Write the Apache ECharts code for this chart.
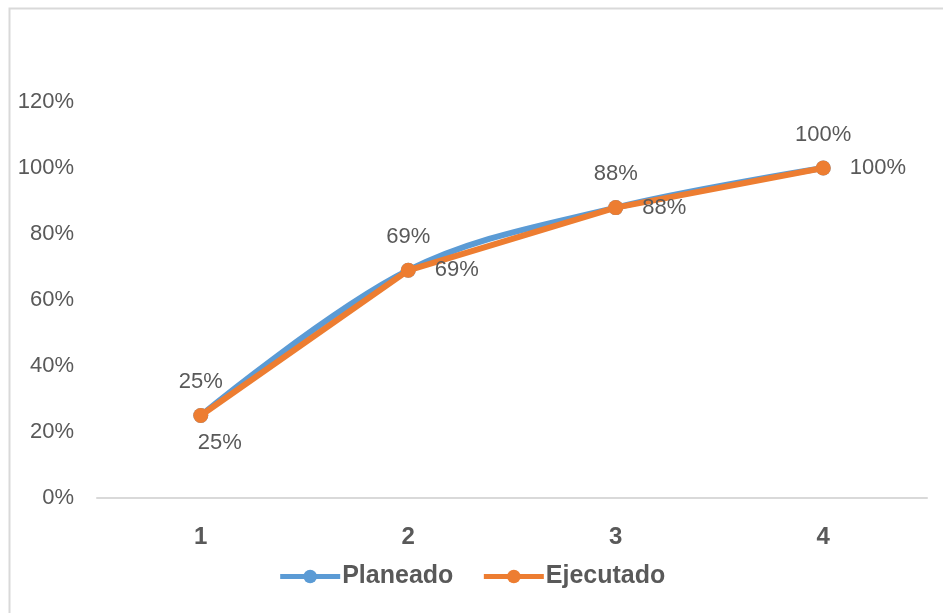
<!DOCTYPE html>
<html><head><meta charset="utf-8">
<script src="https://cdn.jsdelivr.net/npm/echarts@6/dist/echarts.min.js"></script>
<style>html,body{margin:0;padding:0;background:#fff}#c{width:943px;height:613px}</style>
</head><body><div id="c"></div>
<script>
const categories = ['1', '2', '3', '4'];
const planeado = [0.25, 0.69, 0.88, 1.00];
const ejecutado = [0.25, 0.69, 0.88, 1.00];
const yTicks = [0, 0.2, 0.4, 0.6, 0.8, 1.0, 1.2];

const pct = v => Math.round(v * 100) + '%';
const chart = echarts.init(document.getElementById('c'));
const font = 'Liberation Sans';
const grey = '#595959';

const ejecLabelPos = ['bottom', 'right', 'right', 'right'];
const ejecLabelOff = [[19, 0], [0, 0], [0, 0], [0, 0]];

chart.setOption({
  animation: false,
  backgroundColor: '#fff',
  graphic: [{
    type: 'rect', left: 7, top: 6, silent: true,
    shape: { width: 1000, height: 1000 },
    style: { fill: 'none', stroke: '#d9d9d9', lineWidth: 2 }
  }],
  grid: { left: 97, right: 16, top: 102, bottom: 115 },
  legend: {
    bottom: 19, left: 'center',
    itemWidth: 60, itemHeight: 17, itemGap: 28,
    lineStyle: { width: 5 },
    textStyle: { fontFamily: font, fontSize: 25, fontWeight: 'bold', color: grey, padding: [0, 0, 0, -3] },
    data: ['Planeado', 'Ejecutado']
  },
  xAxis: {
    type: 'category', data: categories, boundaryGap: true,
    axisLine: { lineStyle: { color: '#d9d9d9', width: 2 } },
    axisTick: { show: false },
    axisLabel: { fontFamily: font, fontSize: 24, fontWeight: 'bold', color: grey, margin: 27 }
  },
  yAxis: {
    type: 'value', min: 0, max: 1.2, interval: 0.2,
    axisLine: { show: false }, axisTick: { show: false },
    splitLine: { show: false },
    axisLabel: { fontFamily: font, fontSize: 22, color: grey, margin: 23,
      formatter: v => pct(v) }
  },
  series: [
    {
      name: 'Planeado', type: 'line', data: planeado, smooth: 0.35,
      symbol: 'circle', symbolSize: 15,
      itemStyle: { color: '#5B9BD5' },
      lineStyle: { color: '#5B9BD5', width: 6 },
      label: { show: true, position: 'top', distance: 15, fontFamily: font, fontSize: 22, color: grey,
        formatter: p => pct(p.value) },
      z: 2
    },
    {
      name: 'Ejecutado', type: 'line', smooth: false,
      data: ejecutado.map((v, i) => ({
        value: v,
        label: { position: ejecLabelPos[i], offset: ejecLabelOff[i], distance: i === 0 ? 9 : 19 }
      })),
      symbol: 'circle', symbolSize: 15,
      itemStyle: { color: '#ED7D31' },
      lineStyle: { color: '#ED7D31', width: 6 },
      label: { show: true, fontFamily: font, fontSize: 22, color: grey,
        formatter: p => pct(p.value) },
      z: 3
    }
  ]
});
</script></body></html>
